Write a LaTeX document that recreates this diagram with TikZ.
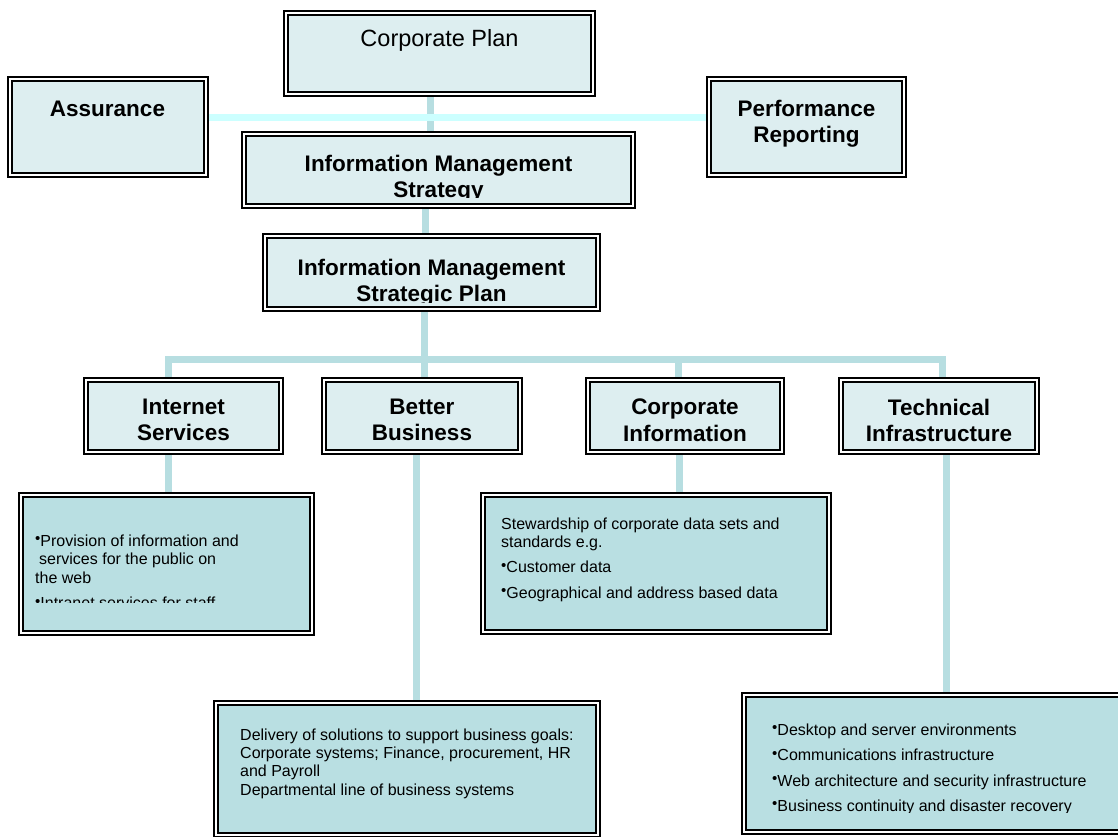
\documentclass[tikz,border=0pt]{standalone}
\usepackage{fontspec}
\setmainfont{Liberation Sans}
\usetikzlibrary{backgrounds}

\definecolor{headfill}{HTML}{DDEEF0}
\definecolor{descfill}{HTML}{B9DFE2}
\definecolor{linkblue}{HTML}{B7DEE1}
\definecolor{sidecyan}{HTML}{CCFFFF}

\newcommand{\blt}{{\fontsize{15}{15}\selectfont\raisebox{2.3pt}{•}}}

\begin{document}
\begin{tikzpicture}[x=1pt,y=-1pt,
  box/.style={draw=black, line width=2.2pt, double=white, double distance=2pt, inner sep=0pt},
  head/.style={box, fill=headfill},
  desc/.style={box, fill=descfill},
  headtext/.style={font=\fontsize{22.5}{26.5}\selectfont\bfseries, align=center, inner sep=0pt, anchor=north},
  desctext/.style={font=\fontsize{16}{18.7}\selectfont, align=left, inner sep=0pt, anchor=north west},
  link/.style={draw=linkblue, line width=7pt},
  sidelink/.style={draw=sidecyan, line width=7pt}]
\useasboundingbox (0,0) rectangle (1118,836);

% top level
\node[head, minimum width=306.6pt, minimum height=80.6pt] (cp) at (439.5,53.5) {};
\node[head, minimum width=195.6pt, minimum height=95.6pt] (assur) at (108,127) {};
\node[head, minimum width=194.6pt, minimum height=95.6pt] (perf) at (806.5,127) {};
\node[head, minimum width=388.6pt, minimum height=71.6pt] (ims) at (438.5,170) {};
\node[head, minimum width=332.6pt, minimum height=72.6pt] (imsp) at (431.5,272.5) {};

% work areas
\node[head, minimum width=194.6pt, minimum height=71.6pt] (is) at (183.5,416) {};
\node[head, minimum width=195.6pt, minimum height=71.6pt] (bb) at (422,416) {};
\node[head, minimum width=193.6pt, minimum height=71.6pt] (ci) at (685,416) {};
\node[head, minimum width=195.6pt, minimum height=71.6pt] (ti) at (939,416) {};

\node[desc, minimum width=290.6pt, minimum height=137.6pt] (isdesc) at (166.5,564) {};
\node[desc, minimum width=345.6pt, minimum height=136.6pt] (cidesc) at (656,563.5) {};
\node[desc, minimum width=381.6pt, minimum height=131.6pt] (bbdesc) at (407,769) {};
\node[desc, minimum width=377.6pt, minimum height=136.6pt] (tidesc) at (933,763.5) {};

\coordinate (busy) at (424,359);

\begin{pgfonlayer}{background}
\draw[link] ([xshift=-9.5pt]cp.south) -- ([xshift=-9.5pt]cp.south |- ims.north);
\draw[sidelink] ([yshift=10pt]assur.east) -- ([yshift=10pt]assur.east -| perf.west);
\draw[link] ([xshift=-13.5pt]ims.south) -- ([xshift=-13.5pt]ims.south |- imsp.north);
\draw[link] ([xshift=-7.5pt]imsp.south) -- ([xshift=-7.5pt]imsp.south |- bb.north);
\draw[link] ([xshift=-15.5pt]is.north) |- (busy) -| ([xshift=3pt]ti.north);
\draw[link] ([xshift=-7pt]ci.north) -- ([xshift=-7pt]ci.north |- busy);
\draw[link] ([xshift=-15.5pt]is.south) -- ([xshift=-15.5pt]is.south |- isdesc.north);
\draw[link] ([xshift=-6pt]bb.south) -- ([xshift=-6pt]bb.south |- bbdesc.north);
\draw[link] ([xshift=-6pt]ci.south) -- ([xshift=-6pt]ci.south |- cidesc.north);
\draw[link] ([xshift=7pt]ti.south) -- ([xshift=7pt]ti.south |- tidesc.north);
\end{pgfonlayer}

% texts
\node[font=\fontsize{23.5}{28}\selectfont, anchor=base, inner sep=0pt] (cptext) at (439.5,46.5) {Corporate Plan};
\node[headtext, anchor=base] (assurtext) at (107.5,116) {Assurance};
\node[headtext] (perftext) at (806.5,99.6) {Performance\\Reporting};
\begin{scope}
\clip (241,131) rectangle (636,197.5);
\node[headtext] (imstext) at (438.5,154.6) {Information Management\\Strategy};
\end{scope}
\begin{scope}
\clip (262,233) rectangle (601,302.5);
\node[headtext] (imsptext) at (431.5,258.6) {Information Management\\Strategic Plan};
\end{scope}

\node[headtext] (istext) at (183.5,398.6) {Internet\\Services};
\node[headtext] (bbtext) at (422,398.6) {Better\\Business};
\node[headtext] (citext) at (685,398.6) {Corporate\\Information};
\node[headtext] (titext) at (939,398.6) {Technical\\Infrastructure};

\begin{scope}
\clip (18,492) rectangle (315,602);
\node[desctext] (isdesctext) at (35,534.3) {\blt Provision of information and\\\hspace{4pt}services for the public on\\the web\\[6.5pt]\blt Intranet services for staff};
\end{scope}
\node[desctext] (cidesctext) at (501,517.3) {Stewardship of corporate data sets and\\standards e.g.\\[6pt]\blt Customer data\\[7pt]\blt Geographical and address based data};
\node[desctext, font=\fontsize{16}{18.3}\selectfont] (bbdesctext) at (240,728.3) {Delivery of solutions to support business goals:\\Corporate systems; Finance, procurement, HR\\and Payroll\\Departmental line of business systems};
\begin{scope}
\clip (741,692) rectangle (1118,812);
\node[desctext] (tidesctext) at (772,723.3) {\blt Desktop and server environments\\[6.5pt]\blt Communications infrastructure\\[7pt]\blt Web architecture and security infrastructure\\[6.5pt]\blt Business continuity and disaster recovery};
\end{scope}
\end{tikzpicture}
\end{document}
